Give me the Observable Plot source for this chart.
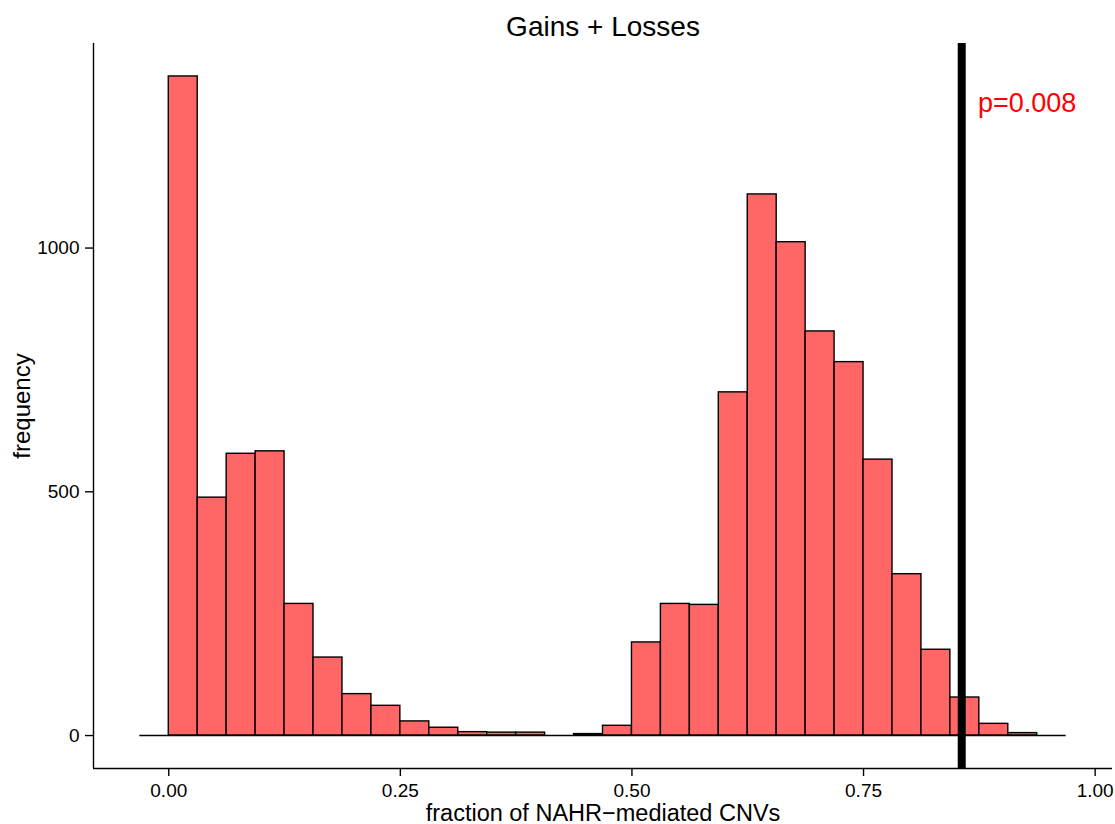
<!DOCTYPE html>
<html>
<head>
<meta charset="utf-8">
<script src="https://cdn.jsdelivr.net/npm/d3@7"></script>
<script src="https://cdn.jsdelivr.net/npm/@observablehq/plot@0.6"></script>
<style>
  html, body { margin: 0; padding: 0; background: #fff; }
  #chart svg { display: block; }
</style>
</head>
<body>
<div id="chart"></div>
<script>
// ---- data ----
const titleText = "Gains + Losses";
const xLabel = "fraction of NAHR\u2212mediated CNVs";
const yLabel = "frequency";
const binWidth = 0.03125;
const binStarts = [
  -0.03125, 0.0, 0.03125, 0.0625, 0.09375, 0.125, 0.15625, 0.1875,
  0.21875, 0.25, 0.28125, 0.3125, 0.34375, 0.375, 0.40625, 0.4375,
  0.46875, 0.5, 0.53125, 0.5625, 0.59375, 0.625, 0.65625, 0.6875,
  0.71875, 0.75, 0.78125, 0.8125, 0.84375, 0.875, 0.90625, 0.9375
];
const counts = [
  0, 1352, 488, 578, 583, 270, 160, 85,
  61, 29, 16, 7, 6, 6, 0, 3,
  20, 191, 270, 268, 704, 1110, 1012, 829,
  766, 566, 331, 176, 78, 24, 5, 0
];
const observedX = 0.856;
const pLabel = "p=0.008";
const pLabelPos = {x: 0.8735, y: 1296};
const xTicks = [0, 0.25, 0.5, 0.75, 1];
const yTicks = [0, 500, 1000];

// ---- derived ----
const bins = binStarts.map((s, i) => ({x1: s, x2: s + binWidth, count: counts[i]}));
const xMin = binStarts[0], xMax = binStarts[binStarts.length - 1] + binWidth;
const xPad = (xMax - xMin) * 0.05;
const yMax = d3.max(counts);
const yPad = yMax * 0.05;
const xDomain = [xMin - xPad, xMax + xPad];
const yDomain = [-yPad, yMax + yPad];

const font = "'Liberation Sans', Arial, Helvetica, sans-serif";
const lw = 1.4;

const chart = Plot.plot({
  width: 1115,
  height: 824,
  marginLeft: 93,
  marginRight: 3,
  marginTop: 43,
  marginBottom: 56,
  style: {fontFamily: font, background: "#fff", color: "black"},
  x: {domain: xDomain},
  y: {domain: yDomain},
  marks: [
    Plot.rectY(bins, {x1: "x1", x2: "x2", y: "count", fill: "#FF6666", stroke: "black", strokeWidth: lw}),
    Plot.ruleY([0], {x1: xMin, x2: xMax, stroke: "black", strokeWidth: lw}),
    Plot.ruleX([observedX], {stroke: "black", strokeWidth: 8}),
    Plot.ruleX([xDomain[0]], {stroke: "black", strokeWidth: lw}),
    Plot.ruleY([yDomain[0]], {stroke: "black", strokeWidth: lw}),
    Plot.axisX(xTicks, {tickFormat: d => d.toFixed(2), tickSize: 8, tickPadding: 7, fontSize: 19, strokeWidth: lw, label: null, color: "black"}),
    Plot.axisY(yTicks, {tickFormat: d => String(d), tickSize: 8, tickPadding: 6, fontSize: 19, strokeWidth: lw, label: null, color: "black"}),
    Plot.text([pLabel], {x: pLabelPos.x, y: pLabelPos.y, text: d => d, textAnchor: "start", lineAnchor: "middle", fill: "#FF0000", fontSize: 27}),
    Plot.text([titleText], {frameAnchor: "top", text: d => d, textAnchor: "middle", lineAnchor: "bottom", dy: -8, fontSize: 28, fill: "black"}),
    Plot.text([xLabel], {frameAnchor: "bottom", text: d => d, textAnchor: "middle", lineAnchor: "bottom", dy: 52, fontSize: 23.5, fill: "black"}),
    Plot.text([yLabel], {frameAnchor: "left", text: d => d, textAnchor: "middle", rotate: -90, lineAnchor: "bottom", dx: -64, fontSize: 24, fill: "black"})
  ]
});
document.getElementById("chart").appendChild(chart);
</script>
</body>
</html>
